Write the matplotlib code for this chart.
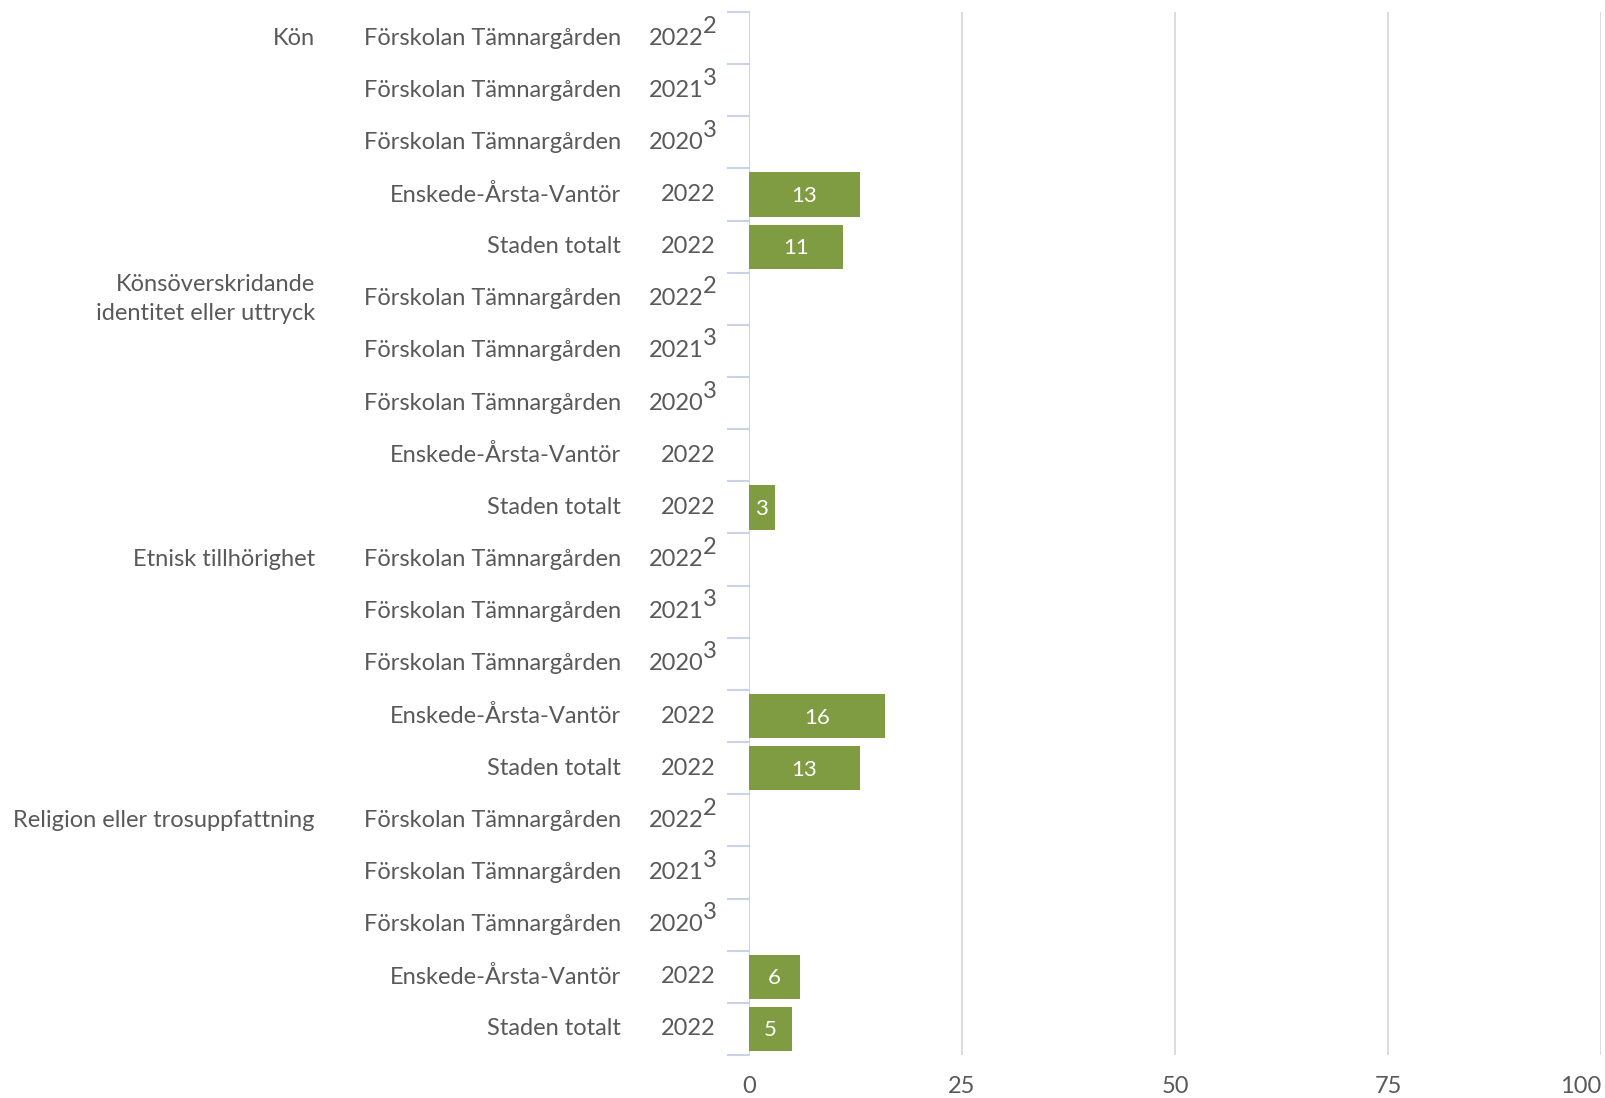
import matplotlib.pyplot as plt
import matplotlib.transforms as mtransforms
import numpy as np

plt.rcParams['font.family'] = ['Lato', 'DejaVu Sans']

# Data
groups = ['Kön', 'Könsöverskridande\nidentitet eller uttryck',
          'Etnisk tillhörighet', 'Religion eller trosuppfattning']
units = ['Förskolan Tämnargården', 'Förskolan Tämnargården', 'Förskolan Tämnargården',
         'Enskede-Årsta-Vantör', 'Staden totalt']
years = ['2022', '2021', '2020', '2022', '2022']
notes = ['2', '3', '3', '', '']
values = [
    [np.nan, np.nan, np.nan, 13, 11],
    [np.nan, np.nan, np.nan, np.nan, 3],
    [np.nan, np.nan, np.nan, 16, 13],
    [np.nan, np.nan, np.nan, 6, 5],
]
xticks = [0, 25, 50, 75, 100]

W, H = 1606, 1098
fig = plt.figure(figsize=(W / 100, H / 100), dpi=100)
ax = fig.add_axes([749 / W, 1 - 1055 / H, 852 / W, (1055 - 12) / H])

text_col = '#595959'
bar_col = '#7f9c43'
fs = 17

vals = np.array(values).ravel()
n = len(vals)
pos = np.arange(n)
ax.barh(pos, np.nan_to_num(vals), height=0.85, color=bar_col, zorder=3)
for p, v in zip(pos, vals):
    if not np.isnan(v):
        ax.text(v / 2, p + 0.03, f'{v:.0f}', ha='center', va='center',
                color='white', fontsize=16, zorder=4)

ax.set_xlim(0, 100)
ax.set_ylim(n - 0.5, -0.5)
ax.set_xticks(xticks)
ax.set_xticklabels([str(t) for t in xticks], fontsize=fs, color=text_col)
ax.get_xticklabels()[-1].set_horizontalalignment('right')
ax.tick_params(axis='x', length=0, pad=15)
ax.set_yticks([])
for s in ax.spines.values():
    s.set_visible(False)
for t in xticks[1:]:
    ax.axvline(t, color='#d9d9d9', lw=1.3, zorder=1)
ax.axvline(0, color='#c9d3e8', lw=1.5, zorder=2)

# category separators on the left
for b in np.arange(n + 1) - 0.5:
    ax.plot([-0.025, 0], [b, b], transform=ax.get_yaxis_transform(),
            color='#c9d3e8', lw=1.5, clip_on=False)

# labels
tr = mtransforms.blended_transform_factory(fig.transFigure, ax.transData)
x_group = 315 / W
x_unit = 621 / W
x_year = 716 / W
for g, name in enumerate(groups):
    ax.text(x_group, g * 5, name, transform=tr, ha='right', va='center',
            fontsize=fs, color=text_col, linespacing=1.5)
    for i in range(5):
        p = g * 5 + i
        ax.text(x_unit, p, units[i], transform=tr, ha='right', va='center',
                fontsize=fs, color=text_col)
        if notes[i]:
            t1 = mtransforms.offset_copy(tr, fig=fig, x=-12, y=0, units='dots')
            ax.text(x_year, p, years[i], transform=t1, ha='right', va='center',
                    fontsize=fs, color=text_col)
            t2 = mtransforms.offset_copy(tr, fig=fig, x=-13, y=12, units='dots')
            ax.text(x_year, p, notes[i], transform=t2, ha='left', va='center',
                    fontsize=17, color=text_col)
        else:
            ax.text(x_year, p, years[i], transform=tr, ha='right', va='center',
                    fontsize=fs, color=text_col)

fig.savefig('out.png', dpi=100)
